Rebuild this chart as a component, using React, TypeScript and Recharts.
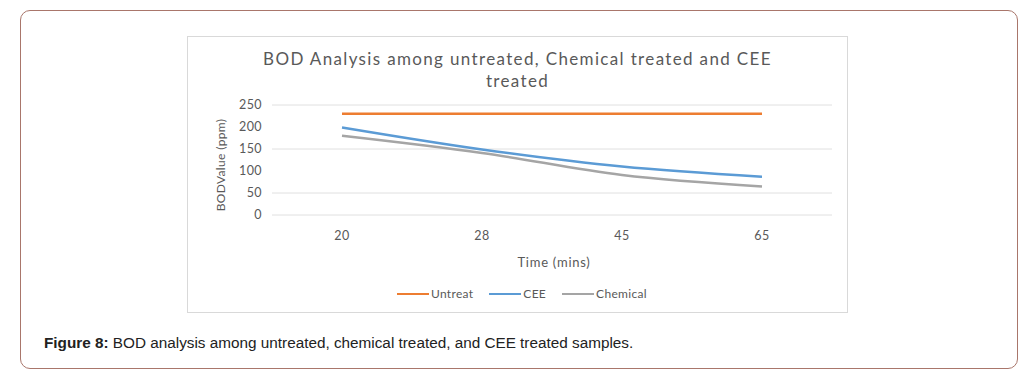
import React from "react";
import { LineChart, Line, XAxis, YAxis, CartesianGrid } from "recharts";

const categories = ["20", "28", "45", "65"];
const untreat = [230, 230, 230, 230];
const cee = [199, 149, 110, 87];
const chemical = [180, 141, 91, 65];
const yTicks = [0, 50, 100, 150, 200, 250];

const data = categories.map((c, i) => ({
  time: c,
  Untreat: untreat[i],
  CEE: cee[i],
  Chemical: chemical[i],
}));

const FONT = "Lato, 'Open Sans', sans-serif";
const TXT = "#595959";

const seriesMeta = [
  { key: "Untreat", color: "#ED7D31" },
  { key: "CEE", color: "#5B9BD5" },
  { key: "Chemical", color: "#A5A5A5" },
];

export default function App() {
  return (
    <div style={{ position: "absolute", left: 0, top: 0, width: 1029, height: 380, background: "#fff" }}>
      <div
        style={{
          position: "absolute",
          left: 20,
          top: 10,
          width: 998,
          height: 359,
          border: "1px solid #a9766b",
          borderRadius: 10,
          boxSizing: "border-box",
        }}
      />
      <div
        style={{
          position: "absolute",
          left: 187,
          top: 36,
          width: 661,
          height: 277,
          border: "1px solid #d9d9d9",
          boxSizing: "border-box",
          background: "#fff",
        }}
      >
        <LineChart
          width={659}
          height={275}
          data={data}
          margin={{ top: 68, right: 15, bottom: 67, left: 24 }}
        >
          <CartesianGrid vertical={false} stroke="#e0e0e0" />
          <XAxis
            dataKey="time"
            padding={{ left: 70, right: 70 }}
            axisLine={false}
            tickLine={false}
            tickSize={14}
            tickMargin={2}
            height={30}
            tick={{ fill: TXT, fontSize: 12.5, fontFamily: FONT, letterSpacing: 0.4 }}
          />
          <YAxis
            domain={[0, 250]}
            ticks={yTicks}
            axisLine={false}
            tickLine={false}
            tickSize={8}
            tickMargin={2}
            width={60}
            tick={{ fill: TXT, fontSize: 12.5, fontFamily: FONT, letterSpacing: 0.4 }}
          />
          {seriesMeta.map((s) => (
            <Line
              key={s.key}
              type="monotone"
              dataKey={s.key}
              stroke={s.color}
              strokeWidth={2.5}
              dot={false}
              isAnimationActive={false}
            />
          ))}
        </LineChart>
        <div
          style={{
            position: "absolute",
            left: 0,
            top: 11,
            width: 659,
            textAlign: "center",
            fontFamily: FONT,
            fontSize: 17,
            letterSpacing: 1.35,
            lineHeight: "22px",
            color: TXT,
          }}
        >
          BOD Analysis among untreated, Chemical treated and CEE
          <br />
          treated
        </div>
        <div
          style={{
            position: "absolute",
            left: 32,
            top: 128,
            transform: "translate(-50%, -50%) rotate(-90deg)",
            fontFamily: FONT,
            fontSize: 12,
            letterSpacing: 0.35,
            color: TXT,
            whiteSpace: "nowrap",
          }}
        >
          BODValue (ppm)
        </div>
        <div
          style={{
            position: "absolute",
            left: 366,
            top: 225,
            transform: "translate(-50%, -50%)",
            fontFamily: FONT,
            fontSize: 13,
            letterSpacing: 0.75,
            color: TXT,
            whiteSpace: "nowrap",
          }}
        >
          Time (mins)
        </div>
        <div
          style={{
            position: "absolute",
            left: 209,
            top: 249,
            display: "flex",
            alignItems: "center",
            fontFamily: FONT,
            fontSize: 12,
            letterSpacing: 0.3,
            color: TXT,
            whiteSpace: "nowrap",
          }}
        >
          {seriesMeta.map((s) => (
            <div key={s.key} style={{ display: "flex", alignItems: "center", marginRight: 16 }}>
              <div style={{ width: 32, height: 2, background: s.color, marginRight: 2 }} />
              <span>{s.key}</span>
            </div>
          ))}
        </div>
      </div>
      <div
        style={{
          position: "absolute",
          left: 44,
          top: 334,
          fontFamily: "'Liberation Sans', Arial, sans-serif",
          fontSize: 15.3,
          color: "#222",
          whiteSpace: "nowrap",
        }}
      >
        <b>Figure 8:</b> BOD analysis among untreated, chemical treated, and CEE treated samples.
      </div>
    </div>
  );
}
